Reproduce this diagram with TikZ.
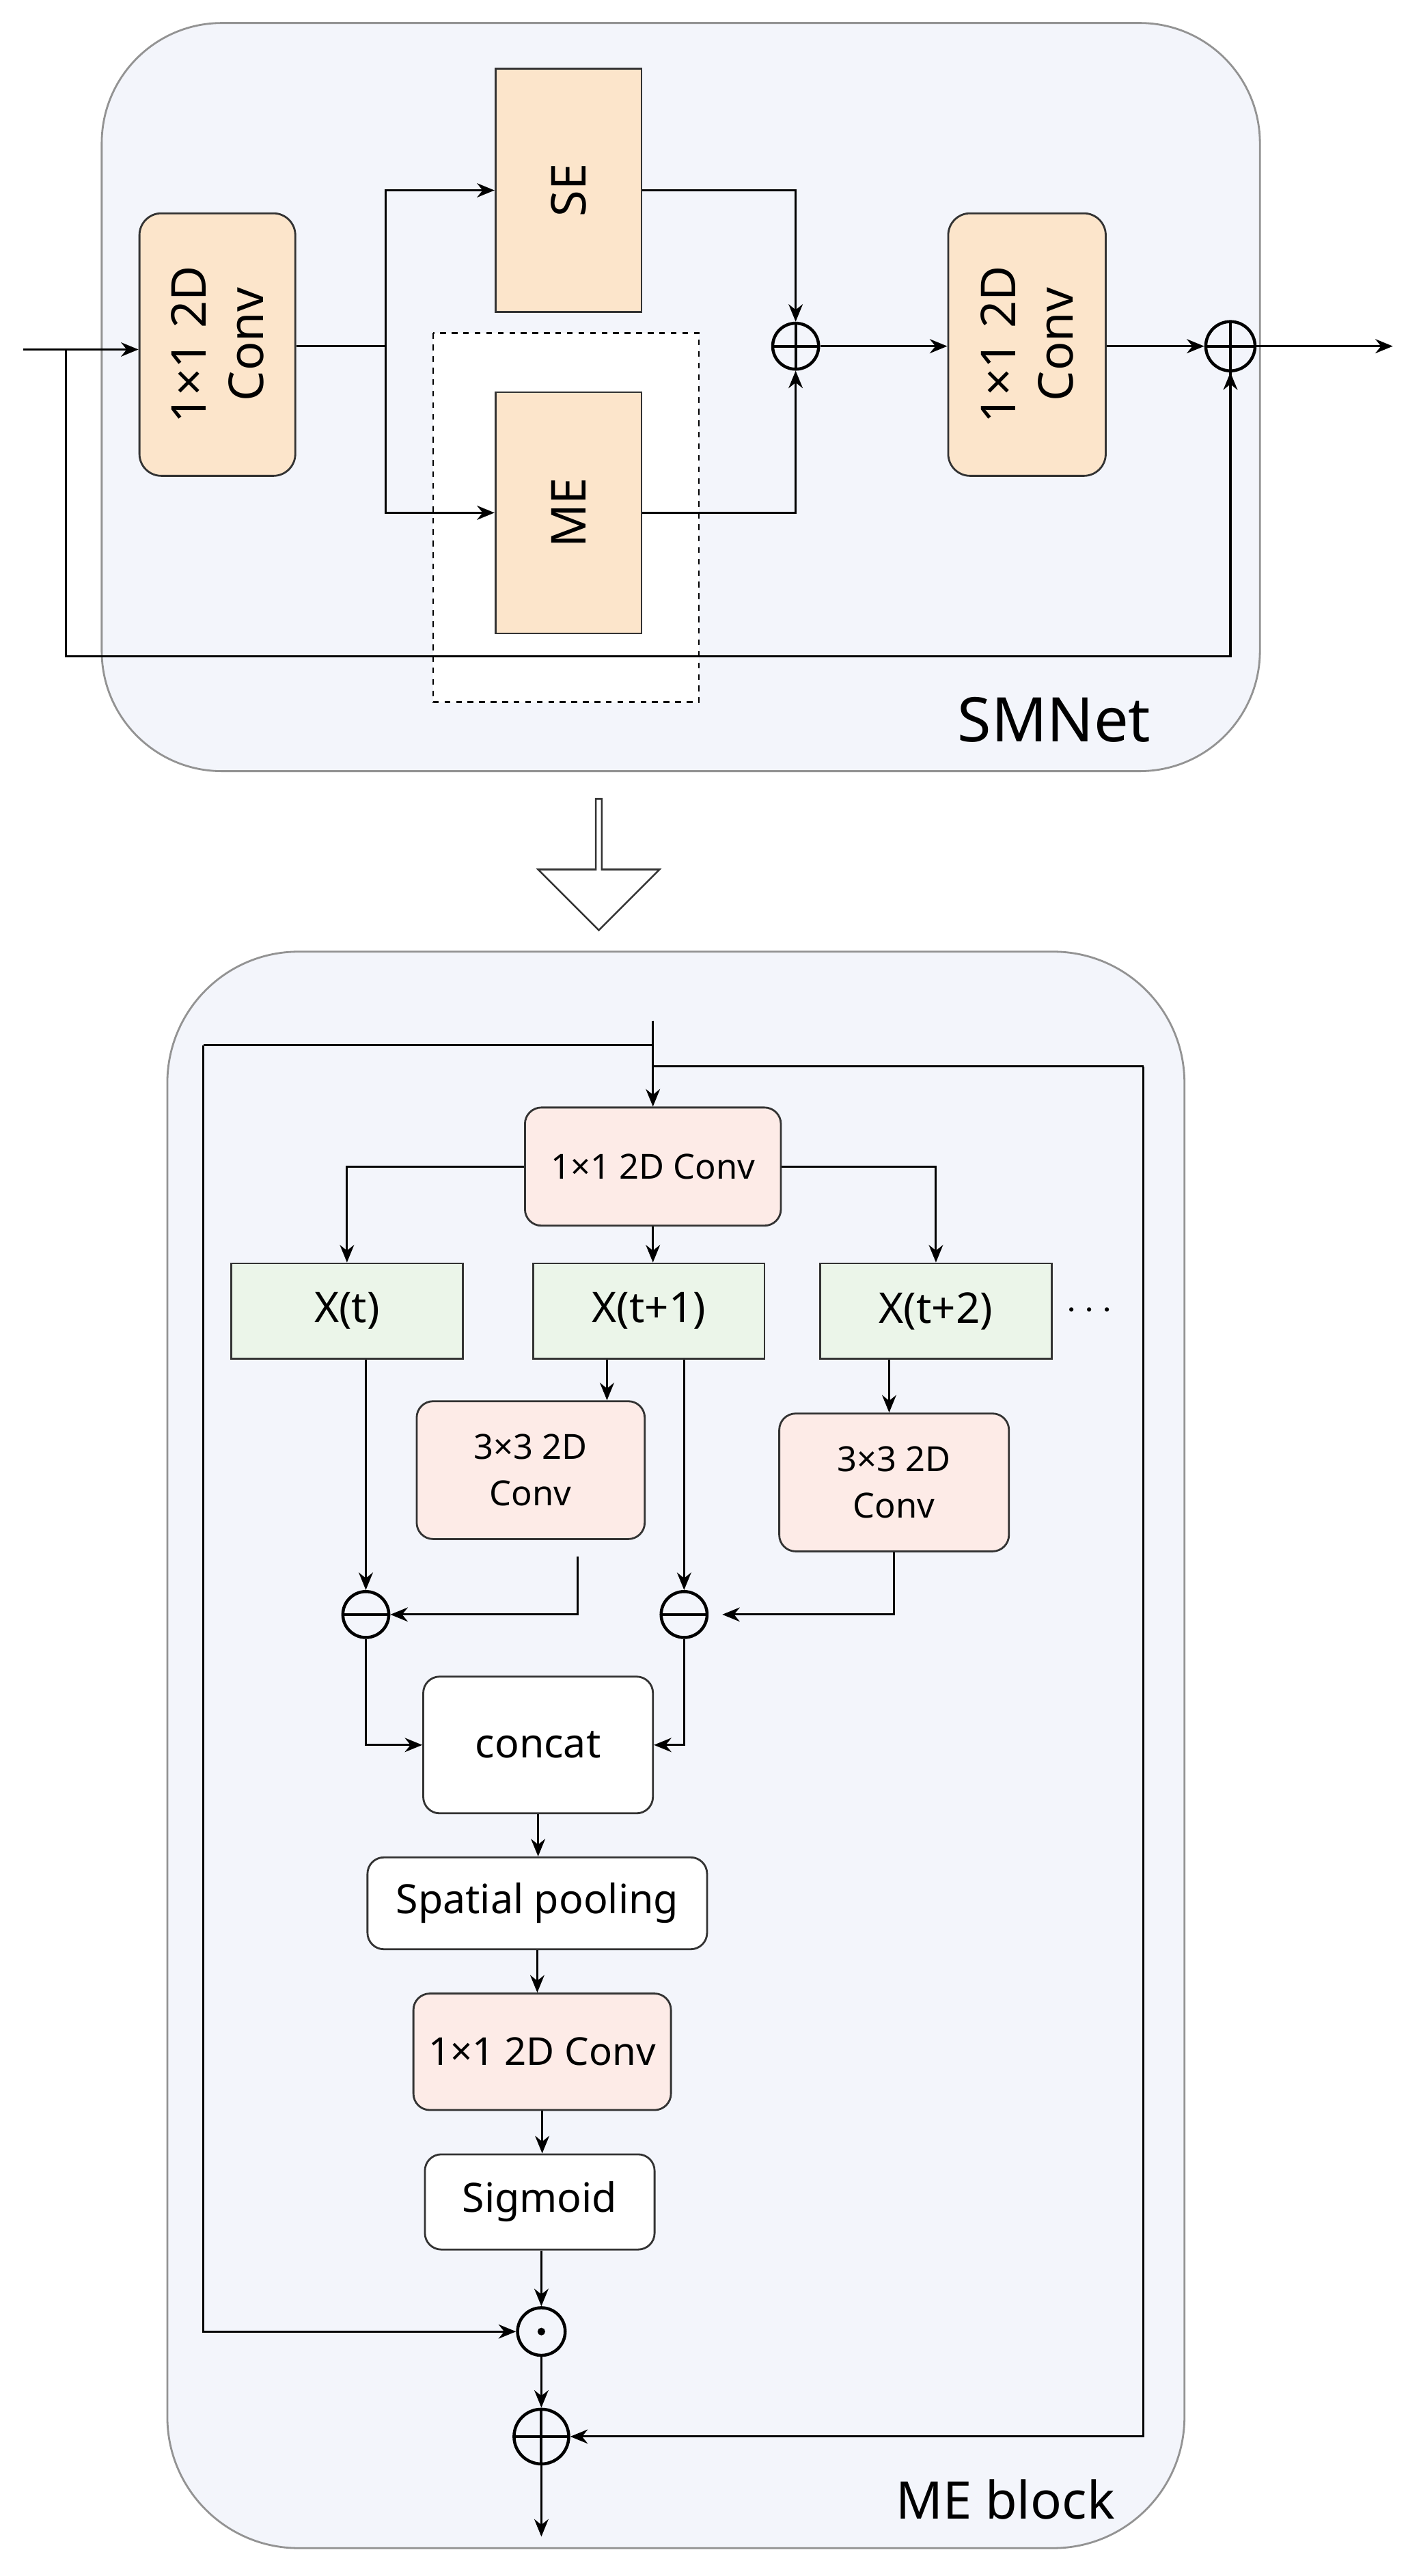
\documentclass[tikz,border=0pt]{standalone}
\usepackage{fontspec}
\setmainfont{Noto Sans}
\usetikzlibrary{arrows.meta,shapes.arrows}
\definecolor{bg}{HTML}{F3F5FB}
\definecolor{org}{HTML}{FCE5CB}
\definecolor{pnk}{HTML}{FDEBE7}
\definecolor{grn}{HTML}{EBF5E9}
\begin{document}
\begin{tikzpicture}[x=0.3mm,y=-0.3mm,
  every path/.style={line width=1.1pt},
  >={Stealth[length=3.2mm,width=2.6mm]},
  outer/.style={draw=gray!85,line width=1pt,fill=bg,rounded corners=22mm},
  obox/.style={draw=black!80,fill=org,line width=1pt,inner sep=0pt},
  pbox/.style={draw=black!80,fill=pnk,line width=1pt,rounded corners=3mm,inner sep=0pt,align=center,font=\fontsize{18}{24}\selectfont},
  gbox/.style={draw=black!80,fill=grn,line width=1pt,inner sep=0pt,font=\fontsize{22}{26}\selectfont},
  wbox/.style={draw=black!80,fill=white,line width=1pt,rounded corners=3mm,inner sep=0pt,font=\fontsize{21}{26}\selectfont},
  opc/.style={circle,draw,line width=1.6pt,inner sep=0pt,minimum size=#1},
  plus/.style={opc=#1,path picture={\draw[line width=1.4pt] (path picture bounding box.north)--(path picture bounding box.south) (path picture bounding box.west)--(path picture bounding box.east);}},
  minus/.style={opc=#1,path picture={\draw[line width=1.4pt] (path picture bounding box.west)--(path picture bounding box.east);}},
]
\useasboundingbox (0,0) rectangle (857,1570);
% ---------- top ----------
\draw[outer] (62,14) rectangle (768,470);
\draw[dashed,fill=white,line width=1pt] (264,203) rectangle (426,428);
\node[font=\fontsize{32}{36}\selectfont,anchor=base east] (smn) at (706,452) {SMNet};
\node[obox,rounded corners=4mm,minimum width=28.5mm,minimum height=48mm] (c1) at (132.5,210) {};
\node[rotate=90,align=center,font=\fontsize{25}{30}\selectfont] (c1t) at (c1) {1×1 2D\\Conv};
\node[obox,minimum width=26.7mm,minimum height=44.4mm] (se) at (346.5,116) {};
\node[rotate=90,font=\fontsize{25}{30}\selectfont] (set) at (se) {SE};
\node[obox,minimum width=26.7mm,minimum height=44.1mm] (me) at (346.5,312.5) {};
\node[rotate=90,font=\fontsize{25}{30}\selectfont] (met) at (me) {ME};
\node[obox,rounded corners=4mm,minimum width=28.8mm,minimum height=48mm] (c2) at (626,210) {};
\node[rotate=90,align=center,font=\fontsize{25}{30}\selectfont] (c2t) at (c2) {1×1 2D\\Conv};
\node[plus=8.4mm] (p1) at (485,211) {};
\node[plus=9mm] (p2) at (750,211) {};
\coordinate (in0) at (14,213);
\coordinate (j0) at (40,213);
\coordinate (br) at (235,211);
\coordinate (out0) at (849,211);
\draw[->] (in0) -- (c1.west |- in0);
\draw (j0) |- (40,400) -| (p2.south);
\draw[->] (40,400) -| (p2.south);
\draw (c1.east |- br) -- (br);
\draw[->] (br) |- (se.west);
\draw[->] (br) |- (me.west);
\draw[->] (se.east) -| (p1.north);
\draw[->] (me.east) -| (p1.south);
\draw[->] (p1.east) -- (c2.west |- p1);
\draw[->] (c2.east |- p2) -- (p2.west);
\draw[->] (p2.east) -- (out0);
% ---------- hollow arrow ----------
\node[single arrow,draw=black!80,fill=white,line width=0.9pt,shape border rotate=270,minimum width=22.2mm,single arrow head extend=3mm,minimum height=24mm,inner sep=0pt] (ha) at (365,526) {};
% ---------- bottom ----------
\draw[outer,rounded corners=24mm] (102,580) rectangle (722,1553);
\node[font=\fontsize{27}{32}\selectfont,anchor=base east] (meb) at (684,1535) {ME block};
\node[pbox,minimum width=46.8mm,minimum height=21.6mm] (cv) at (398,711) {1×1 2D Conv};
\node[gbox,minimum width=42.3mm,minimum height=17.4mm] (xt) at (211.5,799) {X(t)};
\node[gbox,minimum width=42.3mm,minimum height=17.4mm] (xt1) at (395.5,799) {X(t+1)};
\node[gbox,minimum width=42.3mm,minimum height=17.4mm] (xt2) at (570.5,799) {X(t+2)};
\node[font=\fontsize{22}{26}\selectfont\bfseries] (dots) at (664,799) {$\cdots$};
\node[pbox,minimum width=41.7mm,minimum height=25.2mm] (ca) at (323.5,896) {3×3 2D\\Conv};
\node[pbox,minimum width=42mm,minimum height=25.2mm] (cb) at (545,903.5) {3×3 2D\\Conv};
\node[minus=8.4mm] (m1) at (223,984) {};
\node[minus=8.4mm] (m2) at (417,984) {};
\node[wbox,minimum width=42mm,minimum height=25mm] (cc) at (328,1063.5) {concat};
\node[wbox,minimum width=62.1mm,minimum height=16.8mm] (sp) at (327.5,1160) {Spatial pooling};
\node[pbox,minimum width=47.1mm,minimum height=21.3mm,font=\fontsize{20}{24}\selectfont] (cv2) at (330.5,1250.5) {1×1 2D Conv};
\node[wbox,minimum width=42mm,minimum height=17.4mm] (sg) at (329,1342) {Sigmoid};
\node[opc=8.7mm,path picture={\fill (path picture bounding box.center) circle (0.7mm);}] (od) at (330,1421) {};
\node[plus=10mm] (op) at (330,1485) {};
\coordinate (bin) at (398,622);
\coordinate (ja) at (398,637);
\coordinate (jb) at (398,650);
\coordinate (bout) at (330,1546);
\draw[->] (bin) -- (cv.north);
\draw (ja) -- (124,637);
\draw[->] (124,637) |- (od.west);
\draw (jb) -- (697,650);
\draw[->] (697,650) |- (op.east);
\draw[->] (cv.west) -| (xt.north);
\draw[->] (cv.south) -- (cv.south |- xt1.north);
\draw[->] (cv.east) -| (xt2.north);
\draw[->] ([xshift=-7.65mm]xt1.south) -- ([xshift=-7.65mm]xt1.south |- ca.north);
\draw[->] ([xshift=-8.55mm]xt2.south) -- ([xshift=-8.55mm]xt2.south |- cb.north);
\draw[->] (xt.south -| m1) -- (m1.north);
\draw[->] (xt1.south -| m2) -- (m2.north);
\draw[->] ([xshift=8.55mm,yshift=-3mm]ca.south) |- (m1.east);
\draw[->] (cb.south) |- ([xshift=2.5mm]m2.east);
\draw[->] (m1.south) |- (cc.west);
\draw[->] (m2.south) |- (cc.east);
\draw[->] (cc.south) -- (cc.south |- sp.north);
\draw[->] (sp.south) -- (sp.south |- cv2.north);
\draw[->] (cv2.south) -- (cv2.south |- sg.north);
\draw[->] (sg.south -| od) -- (od.north);
\draw[->] (od.south) -- (op.north);
\draw[->] (op.south) -- (bout);
\end{tikzpicture}
\end{document}
